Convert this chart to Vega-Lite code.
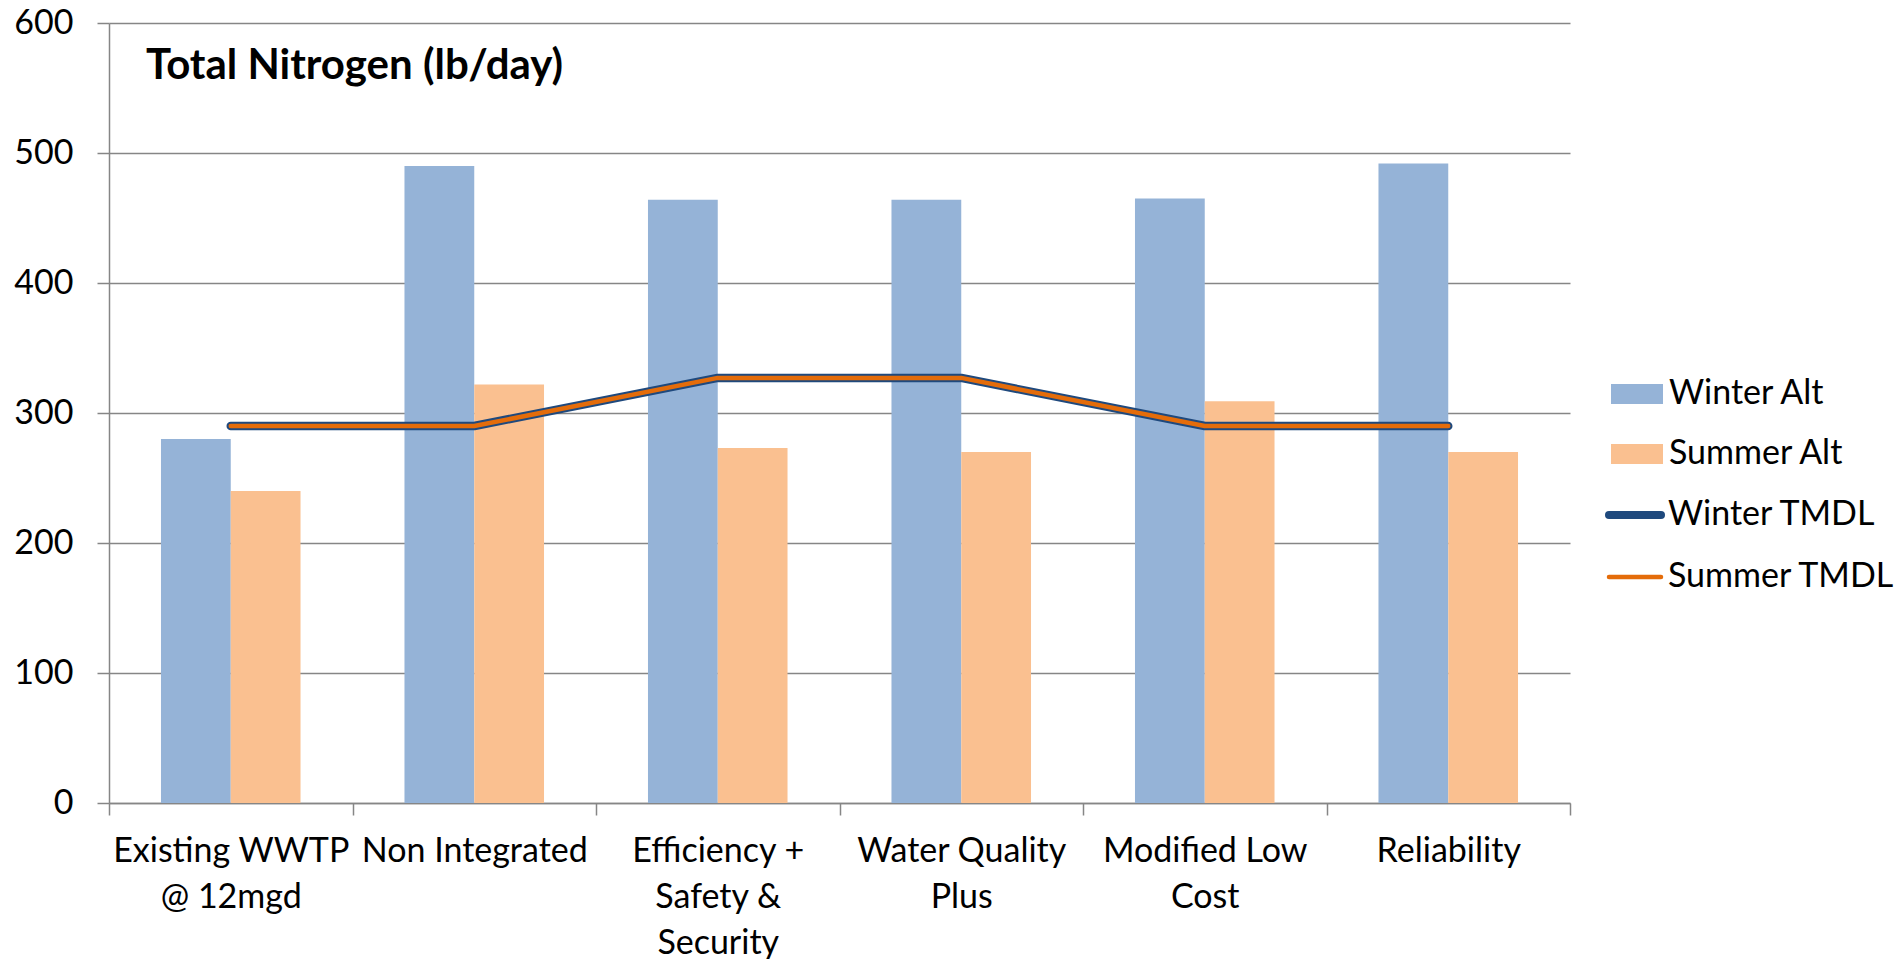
{
  "$schema": "https://vega.github.io/schema/vega-lite/v6.json",
  "width": 1461,
  "height": 780,
  "autosize": {"type": "none"},
  "padding": {"left": 109, "top": 23, "right": 331, "bottom": 156},
  "background": "white",
  "title": {
    "text": "Total Nitrogen (lb/day)",
    "anchor": "start",
    "frame": "group",
    "font": "Lato",
    "fontSize": 42,
    "fontWeight": "bold",
    "color": "black",
    "orient": "top",
    "baseline": "alphabetic",
    "offset": 0,
    "dx": 37,
    "dy": 115
  },
  "datasets": {
    "bars": [
      {"category": "Existing WWTP @ 12mgd", "series": "Winter Alt", "value": 280},
      {"category": "Existing WWTP @ 12mgd", "series": "Summer Alt", "value": 240},
      {"category": "Non Integrated", "series": "Winter Alt", "value": 490},
      {"category": "Non Integrated", "series": "Summer Alt", "value": 322},
      {"category": "Efficiency + Safety & Security", "series": "Winter Alt", "value": 464},
      {"category": "Efficiency + Safety & Security", "series": "Summer Alt", "value": 273},
      {"category": "Water Quality Plus", "series": "Winter Alt", "value": 464},
      {"category": "Water Quality Plus", "series": "Summer Alt", "value": 270},
      {"category": "Modified Low Cost", "series": "Winter Alt", "value": 465},
      {"category": "Modified Low Cost", "series": "Summer Alt", "value": 309},
      {"category": "Reliability", "series": "Winter Alt", "value": 492},
      {"category": "Reliability", "series": "Summer Alt", "value": 270}
    ],
    "winter": [
      {"category": "Existing WWTP @ 12mgd", "series": "Winter TMDL", "value": 290},
      {"category": "Non Integrated", "series": "Winter TMDL", "value": 290},
      {"category": "Efficiency + Safety & Security", "series": "Winter TMDL", "value": 327},
      {"category": "Water Quality Plus", "series": "Winter TMDL", "value": 327},
      {"category": "Modified Low Cost", "series": "Winter TMDL", "value": 290},
      {"category": "Reliability", "series": "Winter TMDL", "value": 290}
    ],
    "summer": [
      {"category": "Existing WWTP @ 12mgd", "series": "Summer TMDL", "value": 290},
      {"category": "Non Integrated", "series": "Summer TMDL", "value": 290},
      {"category": "Efficiency + Safety & Security", "series": "Summer TMDL", "value": 327},
      {"category": "Water Quality Plus", "series": "Summer TMDL", "value": 327},
      {"category": "Modified Low Cost", "series": "Summer TMDL", "value": 290},
      {"category": "Reliability", "series": "Summer TMDL", "value": 290}
    ]
  },
  "config": {
    "font": "Lato",
    "view": {"stroke": null},
    "axis": {
      "labelFont": "Lato",
      "labelFontSize": 34,
      "labelColor": "black",
      "domainColor": "#868686",
      "tickColor": "#868686",
      "gridColor": "#868686",
      "domainWidth": 1.5,
      "tickWidth": 1.5,
      "gridWidth": 1.5,
      "tickSize": 12
    },
    "legend": {
      "labelFont": "Lato",
      "labelFontSize": 34,
      "labelColor": "black",
      "orient": "none",
      "padding": 0,
      "labelOffset": 6,
      "labelLimit": 400
    }
  },
  "layer": [
    {
      "data": {"name": "bars"},
      "mark": {"type": "bar"},
      "encoding": {
        "x": {
          "field": "category",
          "type": "nominal",
          "scale": {
            "domain": ["Existing WWTP @ 12mgd", "Non Integrated", "Efficiency + Safety & Security", "Water Quality Plus", "Modified Low Cost", "Reliability"],
            "paddingInner": 0,
            "paddingOuter": 0
          },
          "axis": {
            "title": null,
            "labelAngle": 0,
            "tickBand": "extent",
            "grid": false,
            "labelLimit": 400,
            "labelPadding": 19,
            "labelLineHeight": 46,
            "labelExpr": "datum.value == 'Existing WWTP @ 12mgd' ? ['Existing WWTP', '@ 12mgd'] : datum.value == 'Efficiency + Safety & Security' ? ['Efficiency +', 'Safety &', 'Security'] : datum.value == 'Water Quality Plus' ? ['Water Quality', 'Plus'] : datum.value == 'Modified Low Cost' ? ['Modified Low', 'Cost'] : datum.value"
          }
        },
        "xOffset": {
          "field": "series",
          "type": "nominal",
          "scale": {"domain": ["Winter Alt", "Summer Alt"], "paddingInner": 0, "paddingOuter": 0.745}
        },
        "y": {
          "field": "value",
          "type": "quantitative",
          "scale": {"domain": [0, 600], "nice": false},
          "axis": {
            "title": null,
            "values": [0, 100, 200, 300, 400, 500, 600],
            "grid": true,
            "labelPadding": 24
          }
        },
        "fill": {
          "field": "series",
          "type": "nominal",
          "scale": {"domain": ["Winter Alt", "Summer Alt"], "range": ["#95B3D7", "#FAC090"]},
          "legend": {
            "title": null,
            "legendX": 1502,
            "legendY": 345,
            "rowPadding": 17,
            "symbolType": "M-1,-0.385H1V0.385H-1Z",
            "symbolSize": 2704,
            "symbolStrokeWidth": 0
          }
        }
      }
    },
    {
      "data": {"name": "winter"},
      "mark": {"type": "line", "strokeWidth": 8.5, "strokeCap": "round", "strokeJoin": "round"},
      "encoding": {
        "x": {"field": "category", "type": "nominal"},
        "y": {"field": "value", "type": "quantitative"},
        "stroke": {
          "field": "series",
          "type": "nominal",
          "scale": {"domain": ["Winter TMDL", "Summer TMDL"], "range": ["#1F497D", "#E46C0A"]},
          "legend": {
            "title": null,
            "legendX": 1509,
            "legendY": 475,
            "rowPadding": 28,
            "labelOffset": 16,
            "symbolType": "stroke",
            "symbolSize": 2704,
            "symbolStrokeWidth": 6,
            "encode": {
              "symbols": {
                "update": {
                  "strokeWidth": {"signal": "datum.value === 'Winter TMDL' ? 8 : 4.5"},
                  "strokeCap": {"value": "round"}
                }
              }
            }
          }
        }
      }
    },
    {
      "data": {"name": "summer"},
      "mark": {"type": "line", "strokeWidth": 4.5, "strokeCap": "round", "strokeJoin": "round"},
      "encoding": {
        "x": {"field": "category", "type": "nominal"},
        "y": {"field": "value", "type": "quantitative"},
        "stroke": {
          "field": "series",
          "type": "nominal",
          "legend": {
            "title": null,
            "legendX": 1509,
            "legendY": 475,
            "rowPadding": 28,
            "labelOffset": 16,
            "symbolType": "stroke",
            "symbolSize": 2704,
            "symbolStrokeWidth": 6,
            "encode": {
              "symbols": {
                "update": {
                  "strokeWidth": {"signal": "datum.value === 'Winter TMDL' ? 8 : 4.5"},
                  "strokeCap": {"value": "round"}
                }
              }
            }
          }
        }
      }
    }
  ]
}
